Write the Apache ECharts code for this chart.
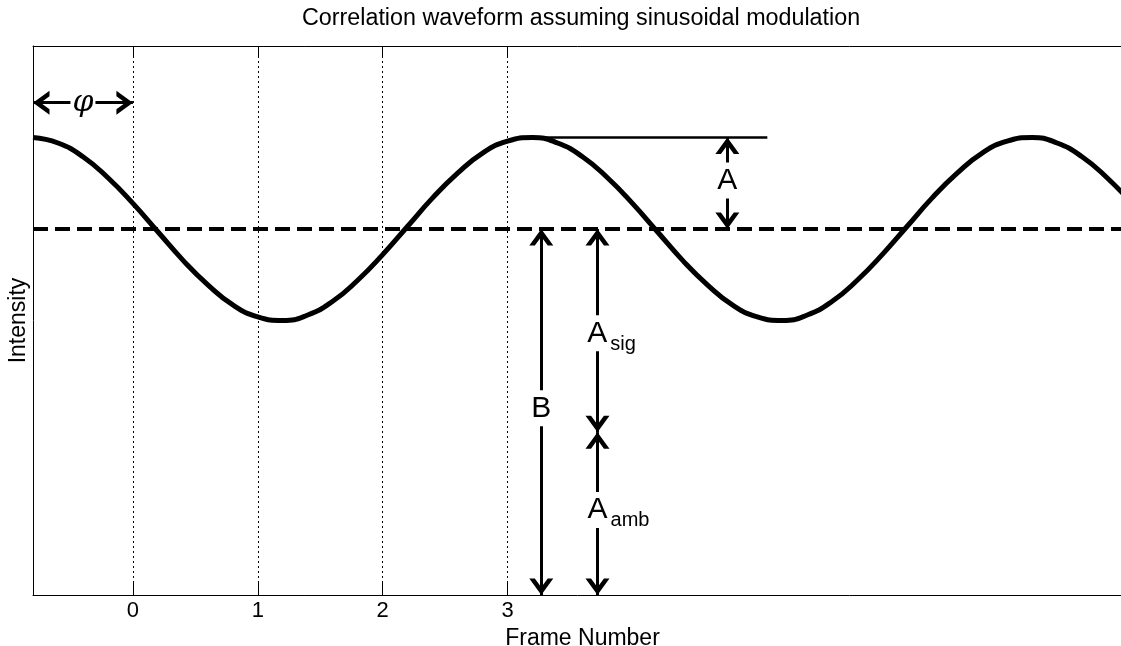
<!DOCTYPE html>
<html>
<head>
<meta charset="utf-8">
<title>Correlation waveform</title>
<script src="https://cdn.jsdelivr.net/npm/echarts@6/dist/echarts.min.js"></script>
<style>
    html, body { margin: 0; padding: 0; background: #fff; }
    #chart { width: 1121px; height: 646px; }
</style>
</head>
<body>
<div id="chart"></div>
<script>
// waveform samples (frame, intensity)
var frames = [-0.8, -0.6, -0.4, -0.2, 0, 0.2, 0.4, 0.6, 0.8, 1.0,
    1.2, 1.4, 1.6, 1.8, 2.0, 2.2, 2.4, 2.6, 2.8, 3.0,
    3.2, 3.4, 3.6, 3.8, 4.0, 4.2, 4.4, 4.6, 4.8, 5.0,
    5.2, 5.4, 5.6, 5.8, 6.0, 6.2, 6.4, 6.6, 6.8, 7.0,
    7.2, 7.4, 7.6, 7.8, 8.0]
var intensity = [5.00, 4.94, 4.79, 4.56, 4.28, 3.97, 3.66, 3.39, 3.17, 3.04,
    3.00, 3.06, 3.21, 3.44, 3.72, 4.03, 4.34, 4.61, 4.83, 4.96,
    5.00, 4.94, 4.79, 4.56, 4.28, 3.97, 3.66, 3.39, 3.17, 3.04,
    3.00, 3.06, 3.21, 3.44, 3.72, 4.03, 4.34, 4.61, 4.83, 4.96,
    5.00, 4.94, 4.79, 4.56, 4.28]
var tickFrames = [0, 1, 2, 3]
var offsetB = 4       // mean level (B)
var peakLevel = 5     // B + A
var splitLevel = 1.78 // A_amb / A_sig boundary

var FONT = 'Liberation Sans, Arial, sans-serif'
// open chevron arrow head, tip sits at the symbol centre
var ARROW = 'path://M8,-11 M0,11 L8,0 L16,11 L12.3,11 L8,5.1 L3.7,11 Z'

var chart = echarts.init(document.getElementById('chart'))

var curve = frames.map(function(f, i) {
    return [f, intensity[i]]
})

function arrowLine(x1, y1, x2, y2) {
    return [{ coord: [x1, y1] }, { coord: [x2, y2] }]
}

function textMark(x, y, text, dx) {
    return {
        coord: [x, y],
        label: { formatter: text, offset: [dx || 0, 0] }
    }
}

var option = {
    animation: false,
    backgroundColor: '#fff',
    textStyle: { fontFamily: FONT, color: '#000' },
    title: {
        text: 'Correlation waveform assuming sinusoidal modulation',
        left: 302,
        top: 7,
        padding: 0,
        textStyle: { fontFamily: FONT, fontSize: 23.3, fontWeight: 'normal', color: '#000' }
    },
    grid: { left: 33, right: -11, top: 46, bottom: 51, outerBoundsMode: 'none', containLabel: false },
    xAxis: [
        {
            type: 'value',
            position: 'bottom',
            min: -0.8,
            max: 8,
            name: 'Frame Number',
            nameLocation: 'middle',
            nameGap: 19,
            nameTextStyle: { fontFamily: FONT, fontSize: 23, color: '#000' },
            axisLine: { show: true, onZero: false, lineStyle: { color: '#000', width: 1 } },
            axisTick: { show: true, inside: true, length: 12, customValues: tickFrames, lineStyle: { color: '#000' } },
            axisLabel: { show: true, customValues: tickFrames, margin: 5, fontFamily: FONT, fontSize: 22, color: '#000' },
            splitLine: { show: true, lineStyle: { color: '#000', width: 1, type: [2, 3] } }
        },
        {
            type: 'value',
            position: 'top',
            min: -0.8,
            max: 8,
            axisLine: { show: true, onZero: false, lineStyle: { color: '#000', width: 1 } },
            axisTick: { show: true, inside: true, length: 12, customValues: tickFrames, lineStyle: { color: '#000' } },
            axisLabel: { show: false },
            splitLine: { show: false }
        }
    ],
    yAxis: {
        type: 'value',
        min: 0,
        max: 6,
        name: 'Intensity',
        nameLocation: 'middle',
        nameGap: 3,
        nameTextStyle: { fontFamily: FONT, fontSize: 23, color: '#000' },
        axisLine: { show: true, onZero: false, lineStyle: { color: '#000', width: 1 } },
        axisTick: { show: false },
        axisLabel: { show: false },
        splitLine: { show: false }
    },
    series: [
        {
            name: 'waveform',
            type: 'line',
            data: curve,
            smooth: true,
            showSymbol: false,
            lineStyle: { color: '#000', width: 5 },
            z: 5
        },
        {
            // mean level and peak reference line
            name: 'levels',
            type: 'line',
            data: [],
            markLine: {
                silent: true,
                symbol: ['none', 'none'],
                label: { show: false },
                data: [
                    { yAxis: offsetB, lineStyle: { color: '#000', width: 4, type: [15, 7] } },
                    [
                        { coord: [3.1, peakLevel], lineStyle: { color: '#000', width: 2.5, type: 'solid' } },
                        { coord: [5.08, peakLevel] }
                    ]
                ]
            }
        },
        {
            // double headed arrows
            name: 'arrows',
            type: 'line',
            data: [],
            markLine: {
                silent: true,
                symbol: [ARROW, ARROW],
                symbolSize: [24, 33],
                label: { show: false },
                lineStyle: { color: '#000', width: 3, type: 'solid' },
                data: [
                    arrowLine(-0.8, 5.38, 0, 5.38),
                    arrowLine(4.76, peakLevel, 4.76, offsetB),
                    arrowLine(3.27, offsetB, 3.27, 0),
                    arrowLine(3.72, offsetB, 3.72, splitLevel),
                    arrowLine(3.72, splitLevel, 3.72, 0)
                ]
            }
        },
        {
            // annotation text
            name: 'labels',
            type: 'line',
            data: [],
            markPoint: {
                silent: true,
                symbol: 'circle',
                symbolSize: 1,
                itemStyle: { color: 'rgba(0,0,0,0)' },
                label: {
                    show: true,
                    position: 'inside',
                    color: '#000',
                    fontFamily: FONT,
                    fontSize: 30,
                    backgroundColor: '#fff',
                    padding: [3, 2],
                    rich: {
                        a: { fontFamily: FONT, fontSize: 30, lineHeight: 30, color: '#000' },
                        s: { fontFamily: FONT, fontSize: 20, lineHeight: 20, color: '#000', padding: [22, 0, 0, 3] },
                        phi: { fontFamily: 'DejaVu Serif', fontStyle: 'italic', fontSize: 30, lineHeight: 30, color: '#000' }
                    }
                },
                data: [
                    textMark(-0.4, 5.38, '{phi|\u03c6}'),
                    textMark(4.76, 4.53, '{a|A}'),
                    textMark(3.27, 2.04, '{a|B}'),
                    textMark(3.72, 2.86, '{a|A}{s|sig}', 14),
                    textMark(3.72, 0.93, '{a|A}{s|amb}', 21)
                ]
            }
        }
    ]
}

chart.setOption(option)
</script>
</body>
</html>
